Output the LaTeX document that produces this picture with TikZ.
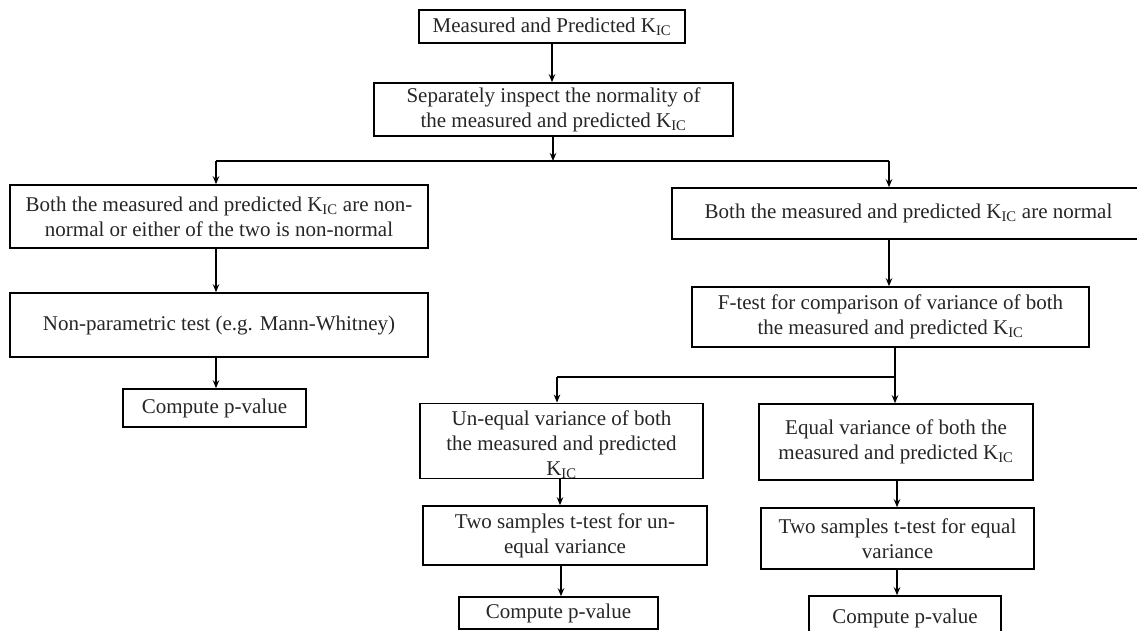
\documentclass[tikz,border=0pt]{standalone}
\usepackage{fontspec}
\setmainfont{Liberation Serif}
\usetikzlibrary{arrows.meta}
\newcommand{\Kic}{K\textsubscript{IC}}
\tikzset{
  box/.style={draw=black, line width=1.6pt, fill=white, rectangle, inner sep=0pt, align=center,
    font=\fontsize{21}{25}\selectfont, text=black!85},
  conn/.style={draw=black, line width=1.4pt},
  arr/.style={conn, -{Stealth[length=8pt,width=6.5pt]}}
}
\begin{document}
\begin{tikzpicture}[x=1pt,y=-1pt]
\useasboundingbox (0,0) rectangle (1137,631);
\fill[white] (0,0) rectangle (1137,631);
% nodes
\node[box, minimum width=266pt, minimum height=33pt] (B1) at (552,26.5) {Measured  and Predicted \Kic};
\node[box, minimum width=359pt, minimum height=53pt] (B2) at (553.5,109.5) {Separately inspect the normality of\\the measured and predicted \Kic};
\node[box, minimum width=418pt, minimum height=63pt] (A) at (219,216.5) {Both the measured and predicted \Kic{} are non-\\normal or either of the two is non-normal};
\node[box, minimum width=473pt, minimum height=51pt] (N) at (908.5,213.5) {Both the measured and predicted \Kic{} are normal};
\node[box, minimum width=418pt, minimum height=64pt] (C) at (219,325) {Non-parametric test (e.g. Mann-Whitney)};
\node[box, minimum width=183pt, minimum height=38pt] (P1) at (214.5,408) {Compute p-value};
\node[box, minimum width=397pt, minimum height=60pt] (D) at (890.5,317) {F-test for comparison of variance of both\\the measured and predicted \Kic};
\node[box, minimum width=283pt, minimum height=74pt] (E) at (561.5,441) {\rule{0pt}{22pt}Un-equal variance of both\\the measured and predicted\\\Kic};
\node[box, minimum width=274pt, minimum height=76pt] (F) at (896,442) {Equal variance of both the\\measured and predicted \Kic};
\node[box, minimum width=284pt, minimum height=59pt] (G) at (565,535.5) {Two samples t-test for un-\\equal variance};
\node[box, minimum width=273pt, minimum height=61pt] (H) at (897.5,538.5) {Two samples t-test for equal\\variance};
\node[box, minimum width=199pt, minimum height=32pt] (I) at (558.5,613) {Compute p-value};
\node[box, minimum width=192pt, minimum height=44pt] (J) at (905,618) {Compute p-value};
% junction coordinates
\coordinate (j1) at (553,161);
\coordinate (jl) at (216,161);
\coordinate (jr) at (889,161);
\coordinate (k1) at (895,377);
\coordinate (kl) at (557,377);
% connectors
\draw[arr] (B1.south) -- (B1.south |- B2.north);
\draw[arr] (B2.south -| j1) -- (j1);
\draw[conn] (jl) -- (jr);
\draw[arr] (jl) -- (jl |- A.north);
\draw[arr] (jr) -- (jr |- N.north);
\draw[arr] (A.south -| jl) -- (C.north -| jl);
\draw[arr] (C.south -| jl) -- (P1.north -| jl);
\draw[arr] (N.south -| jr) -- (D.north -| jr);
\draw[arr] (D.south -| k1) -- (F.north -| k1);
\draw[conn] (k1) -- (kl);
\draw[arr] (kl) -- (kl |- E.north);
\draw[arr] (E.south -| 560,0) -- (G.north -| 560,0);
\draw[arr] (G.south -| 561,0) -- (I.north -| 561,0);
\draw[arr] (F.south -| 897,0) -- (H.north -| 897,0);
\draw[arr] (H.south -| 897,0) -- (J.north -| 897,0);
\end{tikzpicture}
\end{document}
